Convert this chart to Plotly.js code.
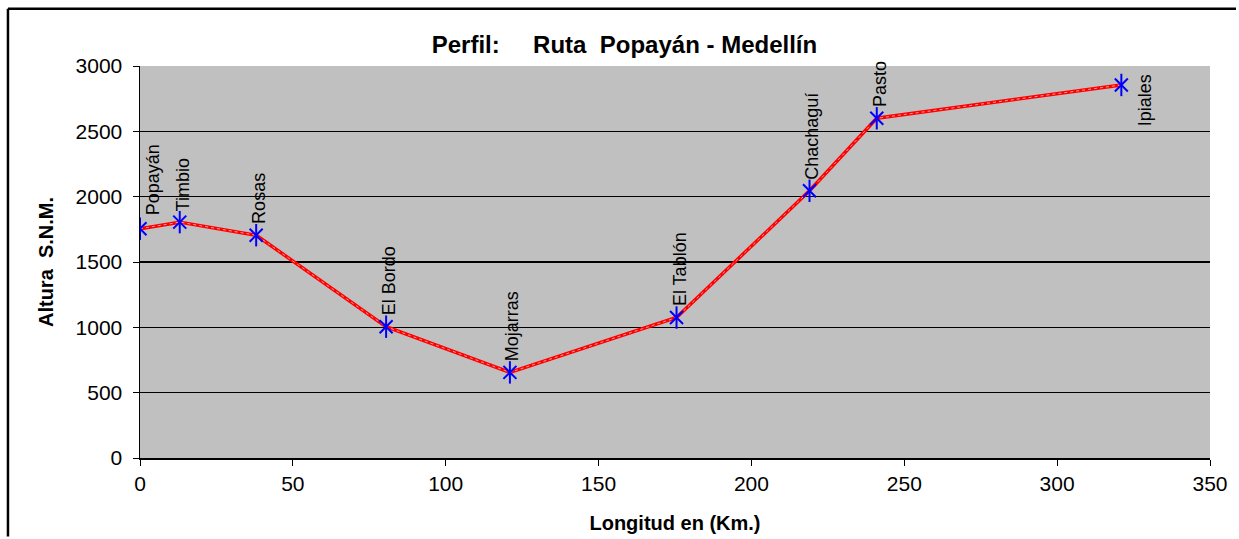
<!DOCTYPE html>
<html>
<head>
<meta charset="utf-8">
<script src="https://cdn.plot.ly/plotly-3.0.1.min.js"></script>
<style>html,body{margin:0;padding:0;background:#fff;}#chart{width:1239px;height:539px;}</style>
</head>
<body>
<div id="chart"></div>
<script>
// Data
const places = ["Popayán", "Timbio", "Rosas", "El Bordo", "Mojarras", "El Tablón", "Chachaguí", "Pasto", "Ipiales"];
const distanceKm = [0, 13, 38, 80.5, 121, 175.5, 219, 241, 321];
const altitude = [1755, 1805, 1705, 1005, 655, 1075, 2045, 2600, 2855];
const xTicks = [0, 50, 100, 150, 200, 250, 300, 350];
const yTicks = [0, 500, 1000, 1500, 2000, 2500, 3000];

const FONT = 'Arial, "Liberation Sans", sans-serif';

const traces = [
  {x: distanceKm, y: altitude, mode: 'lines', type: 'scatter',
   line: {color: '#ff0000', width: 3.5}, hoverinfo: 'skip'},
  {x: distanceKm, y: altitude, mode: 'lines', type: 'scatter',
   line: {color: '#ff9a9a', width: 1, dash: 'dot'}, hoverinfo: 'skip'},
  {x: distanceKm, y: altitude, mode: 'markers', type: 'scatter',
   marker: {symbol: 'x-thin-open', size: 13, color: '#0000ff', line: {color: '#0000ff', width: 2}}},
  {x: distanceKm, y: altitude, mode: 'markers', type: 'scatter',
   marker: {symbol: 'line-ns-open', size: 16, color: '#0000ff', line: {color: '#0000ff', width: 2}}}
];

// label placement tweaks (styling)
const annotations = places.map((p, i) => {
  let xshift = 3, yshift = 9, yanchor = 'bottom';
  if (i === 0) { xshift = 13; yshift = 11; }
  if (i === places.length - 1) { xshift = 24; yshift = 13; yanchor = 'top'; }
  return {
    x: distanceKm[i], y: altitude[i], xref: 'x', yref: 'y',
    text: p, textangle: -90, showarrow: false,
    xanchor: 'center', yanchor: yanchor, xshift: xshift, yshift: yshift,
    font: {family: FONT, size: 18, color: '#000'}
  };
});

const layout = {
  width: 1239, height: 539,
  margin: {l: 140, r: 29, t: 66, b: 81, pad: 0},
  paper_bgcolor: '#ffffff',
  plot_bgcolor: '#c0c0c0',
  showlegend: false,
  title: {text: '<b>Perfil:\u00a0\u00a0\u00a0\u00a0\u00a0Ruta\u00a0\u00a0Popayán - Medellín</b>',
          font: {family: FONT, size: 24, color: '#000'},
          x: 0.504, xref: 'container', xanchor: 'center', y: 0.918, yref: 'container', yanchor: 'middle'},
  xaxis: {
    range: [0, 350], tickvals: xTicks, ticktext: xTicks.map(String),
    showgrid: false, zeroline: false,
    showline: true, linecolor: '#000', linewidth: 1.5,
    ticks: 'outside', ticklen: 6, tickcolor: '#000', tickwidth: 1,
    tickfont: {family: FONT, size: 21, color: '#000'},
    title: {text: '<b>Longitud en (Km.)</b>', font: {family: FONT, size: 20, color: '#000'}, standoff: 22},
    automargin: false, fixedrange: true
  },
  yaxis: {
    range: [0, 3000], tickvals: yTicks, ticktext: yTicks.map(String),
    showgrid: true, gridcolor: '#000', gridwidth: 1.5,
    zeroline: false,
    showline: true, linecolor: '#000', linewidth: 1.5,
    ticks: 'outside', ticklen: 6, tickcolor: '#000', tickwidth: 1,
    ticklabelstandoff: 6,
    tickfont: {family: FONT, size: 21, color: '#000'},
    title: {text: '<b>Altura\u00a0\u00a0S.N.M.</b>', font: {family: FONT, size: 20, color: '#000'}, standoff: 16},
    automargin: false, fixedrange: true
  },
  annotations: annotations,
  shapes: [
    {type: 'line', xref: 'paper', yref: 'paper', x0: -0.1234, x1: -0.1234, y0: -0.2, y1: 1.146, line: {color: '#000', width: 2.5}},
    {type: 'line', xref: 'paper', yref: 'paper', x0: -0.1234, x1: 1.0243, y0: 1.146, y1: 1.146, line: {color: '#000', width: 2.5}}
  ]
};

Plotly.newPlot('chart', traces, layout, {displayModeBar: false, staticPlot: true});
</script>
</body>
</html>
